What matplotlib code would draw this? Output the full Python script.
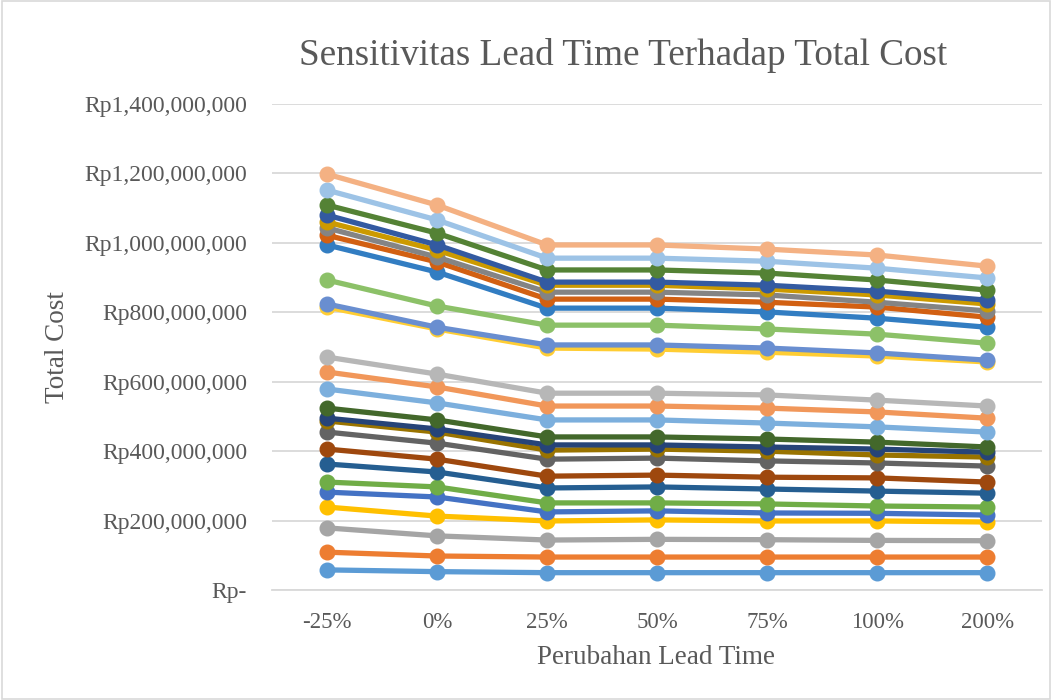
import matplotlib
matplotlib.use("Agg")
import matplotlib.pyplot as plt
from matplotlib.patches import Rectangle
from matplotlib.ticker import FuncFormatter

plt.rcParams['font.family'] = ['Liberation Serif', 'DejaVu Serif']

lead_time = ["-25%", "0%", "25%", "50%", "75%", "100%", "200%"]

# total cost per item (juta rupiah), one list per series
cost = [
    [58, 53, 50, 50, 50, 50, 50],
    [109, 98, 95, 95, 95, 95, 95],
    [179, 156, 144, 146, 145, 143, 142],
    [239, 213, 199, 202, 199, 199, 196],
    [282, 268, 225, 228, 222, 221, 216],
    [311, 297, 251, 251, 248, 242, 239],
    [363, 340, 294, 297, 291, 285, 279],
    [406, 377, 328, 331, 325, 323, 311],
    [455, 423, 377, 380, 372, 366, 357],
    [487, 455, 403, 406, 400, 389, 383],
    [495, 464, 418, 418, 412, 406, 397],
    [524, 490, 441, 441, 435, 426, 412],
    [579, 539, 490, 490, 481, 470, 455],
    [628, 585, 530, 530, 524, 513, 495],
    [671, 622, 567, 567, 562, 547, 530],
    [815, 752, 697, 694, 685, 674, 657],
    [824, 757, 706, 706, 697, 683, 662],
    [893, 818, 763, 763, 752, 737, 711],
    [994, 916, 812, 812, 801, 783, 757],
    [1022, 945, 838, 838, 829, 815, 786],
    [1043, 959, 858, 858, 850, 829, 804],
    [1060, 979, 878, 878, 867, 850, 824],
    [1080, 994, 887, 887, 878, 861, 835],
    [1109, 1028, 922, 922, 913, 893, 864],
    [1152, 1066, 956, 956, 947, 927, 899],
    [1198, 1109, 994, 994, 982, 965, 933],
]

colors = [
    "#5B9BD5", "#ED7D31", "#A5A5A5", "#FFC000", "#4472C4", "#70AD47",
    "#255E91", "#9E480E", "#636363", "#997300", "#264478", "#43682B",
    "#7CAFDD", "#F1975A", "#B7B7B7", "#FFCD33", "#698ED0", "#8CC168",
    "#327DC2", "#D26012", "#848484", "#CC9A00", "#335AA1", "#548235",
    "#9DC3E6", "#F4B183",
]

text_col = '#595959'

fig = plt.figure(figsize=(10.52, 7.0), dpi=100)
ax = fig.add_axes([0.2586, 0.1571, 0.732, 0.6943])

x = list(range(len(lead_time)))
for vals, c in zip(cost, colors):
    ax.plot(x, [v * 1e6 for v in vals], color=c, lw=3.8, marker='o',
            markersize=10.5, solid_capstyle='round')

ax.set_xlim(-0.5, len(lead_time) - 0.5)
ax.set_ylim(0, 1.4e9)
ax.set_yticks([i * 2e8 for i in range(8)])
ax.yaxis.set_major_formatter(FuncFormatter(
    lambda v, p: "Rp-" if v == 0 else f"Rp{int(v):,}"))
ax.set_xticks(x)
ax.set_xticklabels(lead_time)
ax.grid(axis='y', color='#D9D9D9', lw=1.3)
ax.set_axisbelow(True)
for s in ['top', 'right', 'left']:
    ax.spines[s].set_visible(False)
ax.spines['bottom'].set_color('#D9D9D9')
ax.spines['bottom'].set_linewidth(1.3)
ax.tick_params(axis='y', length=0, labelsize=17, colors=text_col, pad=18)
ax.tick_params(axis='x', length=0, labelsize=16.5, colors=text_col, pad=16)

fig.text(0.592, 0.921, "Sensitivitas Lead Time Terhadap Total Cost",
         ha='center', va='center', fontsize=26.7, color=text_col)
fig.text(0.624, 0.061, "Perubahan Lead Time", ha='center', va='center',
         fontsize=19.5, color=text_col)
fig.text(0.055, 0.504, "Total Cost", ha='center', va='center', rotation=90,
         fontsize=19.5, color=text_col)

fig.patches.append(Rectangle((0.002, 0.002), 0.996, 0.996, transform=fig.transFigure,
                             fill=False, edgecolor='#D9D9D9', lw=1.2))

fig.savefig("out.png", dpi=100)
